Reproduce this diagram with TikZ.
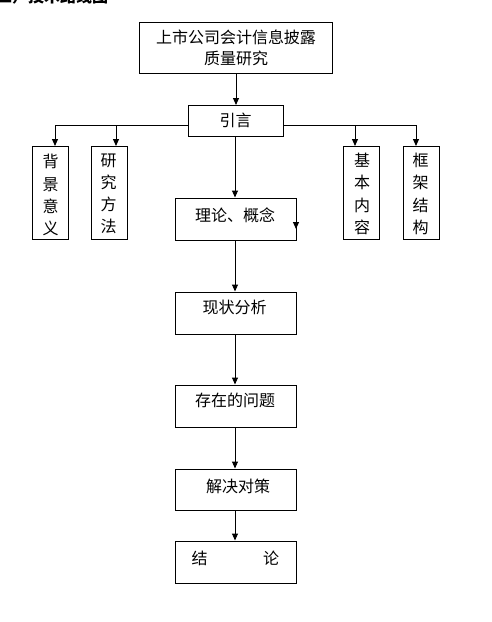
\documentclass[tikz,border=0pt]{standalone}
\usepackage{fontspec}
\setmainfont{Noto Sans CJK SC}
\usetikzlibrary{arrows.meta}
\begin{document}
\begin{tikzpicture}[x=1pt,y=-1pt,
  box/.style={draw=black,line width=1pt,fill=white},
  txt/.style={inner sep=0pt,font=\fontsize{16}{21}\selectfont},
  vtxt/.style={inner sep=0pt,align=center,font=\fontsize{16}{22.2}\selectfont},
  arr/.style={line width=1pt,-{Triangle[width=6pt,length=7pt]}},
  ln/.style={line width=1pt}]
\useasboundingbox (0,0) rectangle (492,622);
% cropped heading
\node[inner sep=0pt,anchor=base west,font=\fontsize{16}{16}\selectfont\bfseries] (head) at (-4,2.5) {二）技术路线图};
% horizontal branch line (behind intro box)
\coordinate (hl) at (188,125);
\coordinate (hr) at (283,125);
% boxes
\draw[box] (139,22) rectangle (332,73);
\node[txt,align=center] (t0) at (236,48) {上市公司会计信息披露\\质量研究};
\coordinate (topb) at (236,73);
\node[box,minimum width=95pt,minimum height=31pt,inner sep=0pt] (yy) at (235.5,120.5) {};
\node[txt] (yyt) at (235.5,120) {引言};
\coordinate (yyn) at (236,105);
\draw[arr] (topb) -- (yyn);
% side boxes
\node[box,minimum width=36pt,minimum height=93pt,inner sep=0pt] (bj) at (50,192.5) {};
\node[box,minimum width=36pt,minimum height=93pt,inner sep=0pt] (yf) at (109,192.5) {};
\node[box,minimum width=36pt,minimum height=93pt,inner sep=0pt] (jb) at (361,192.5) {};
\node[box,minimum width=36pt,minimum height=93pt,inner sep=0pt] (kj) at (421,192.5) {};
\node[vtxt] (bjt) at (50.5,195) {背\\景\\意\\义};
\node[vtxt] (yft) at (108.5,194) {研\\究\\方\\法};
\node[vtxt] (jbt) at (362,194) {基\\本\\内\\容};
\node[vtxt] (kjt) at (420.5,194) {框\\架\\结\\构};
\coordinate (bjn) at (55,146);
\coordinate (yfn) at (116,146);
\coordinate (jbn) at (355,146);
\coordinate (kjn) at (416,146);
\draw[ln] (hl) -- (yfn |- hl);
\draw[arr] (yfn |- hl) -- (yfn);
\draw[arr] (yfn |- hl) -- (bjn |- hl) -- (bjn);
\draw[ln] (hr) -- (jbn |- hr);
\draw[arr] (jbn |- hr) -- (jbn);
\draw[arr] (jbn |- hr) -- (kjn |- hr) -- (kjn);
% main column
\node[box,minimum width=121pt,minimum height=42pt,inner sep=0pt] (ll) at (235.5,219) {};
\node[txt] (llt) at (235,215) {理论、概念};
\coordinate (s1) at (296,214);
\coordinate (s2) at (296,229);
\draw[arr] (s1) -- (s2);
\node[box,minimum width=121pt,minimum height=42pt,inner sep=0pt] (xz) at (235.5,313) {};
\node[txt] (xzt) at (234.5,307.5) {现状分析};
\node[box,minimum width=121pt,minimum height=42pt,inner sep=0pt] (cz) at (235.5,406) {};
\node[txt] (czt) at (235,400.5) {存在的问题};
\node[box,minimum width=121pt,minimum height=41pt,inner sep=0pt] (jj) at (235.5,489.5) {};
\node[txt] (jjt) at (238,486) {解决对策};
\node[box,minimum width=121pt,minimum height=42pt,inner sep=0pt] (jl) at (235.5,562) {};
\node[txt] (jl1) at (199.5,558) {结};
\node[txt] (jl2) at (271,558) {论};
\draw[arr] (yy.south -| 235,0) -- (ll.north -| 235,0);
\draw[arr] (ll.south -| 235,0) -- (xz.north -| 235,0);
\draw[arr] (xz.south -| 235,0) -- (cz.north -| 235,0);
\draw[arr] (cz.south -| 235,0) -- (jj.north -| 235,0);
\draw[arr] (jj.south -| 235,0) -- (jl.north -| 235,0);
\end{tikzpicture}
\end{document}
